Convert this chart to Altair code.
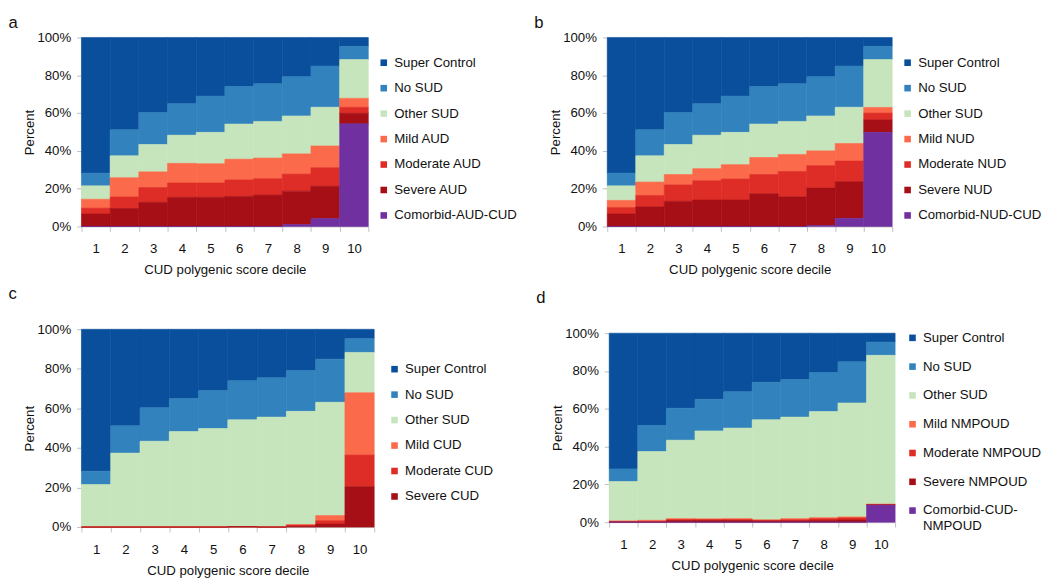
import altair as alt
import pandas as pd

FONT = "Liberation Sans"
deciles = [1, 2, 3, 4, 5, 6, 7, 8, 9, 10]

colors7 = ["#0a4f9c", "#3182bd", "#c7e5bc", "#fb6a4a", "#de2d26", "#a50f15", "#7030a0"]
colors6 = colors7[:6]

# shared series
super_control = [71.8, 48.8, 39.7, 35.0, 31.0, 26.0, 24.5, 20.8, 15.1, 4.7]
no_sud = [6.7, 13.8, 16.9, 16.7, 19.2, 19.8, 19.9, 20.7, 21.8, 7.0]

# panel a (AUD)
names_a = ["Super Control", "No SUD", "Other SUD", "Mild AUD", "Moderate AUD", "Severe AUD", "Comorbid-AUD-CUD"]
a_other = [7.1, 11.6, 14.5, 14.9, 16.6, 18.6, 19.4, 20.1, 20.5, 20.5]
a_mild = [4.7, 10.2, 8.3, 10.4, 10.2, 11.0, 10.9, 10.7, 11.5, 4.7]
a_moderate = [3.1, 6.1, 7.8, 7.6, 7.6, 8.7, 8.7, 9.0, 9.8, 3.2]
a_severe = [6.6, 9.5, 12.8, 15.4, 15.4, 15.9, 16.6, 17.7, 17.1, 5.6]
a_comorbid = [0, 0, 0, 0, 0, 0, 0, 1.0, 4.2, 54.3]

# panel b (NUD)
names_b = ["Super Control", "No SUD", "Other SUD", "Mild NUD", "Moderate NUD", "Severe NUD", "Comorbid-NUD-CUD"]
b_other = [7.7, 13.9, 15.9, 17.7, 17.1, 17.7, 17.5, 18.5, 19.2, 25.3]
b_mild = [3.8, 7.1, 5.5, 6.4, 7.6, 9.0, 9.0, 7.8, 9.3, 3.0]
b_moderate = [3.4, 6.0, 8.7, 10.2, 11.1, 10.2, 13.4, 11.8, 10.9, 3.6]
b_severe = [6.6, 10.4, 13.3, 14.0, 14.0, 17.3, 15.7, 19.9, 19.4, 6.6]
b_comorbid = [0, 0, 0, 0, 0, 0, 0, 0.5, 4.3, 49.8]

# panel c (CUD)
names_c = ["Super Control", "No SUD", "Other SUD", "Mild CUD", "Moderate CUD", "Severe CUD"]
c_other = [21.5, 37.4, 43.4, 48.3, 49.8, 54.0, 55.6, 57.3, 57.3, 20.4]
c_mild = [0, 0, 0, 0, 0, 0, 0, 0.2, 2.6, 31.5]
c_moderate = [0, 0, 0, 0, 0, 0, 0, 0.6, 1.7, 16.0]
c_severe = [0, 0, 0, 0, 0, 0.2, 0, 0.4, 1.5, 20.4]

# panel d (NMPOUD)
names_d = ["Super Control", "No SUD", "Other SUD", "Mild NMPOUD", "Moderate NMPOUD", "Severe NMPOUD", "Comorbid-CUD-NMPOUD"]
d_other = [20.8, 36.4, 41.5, 46.5, 47.9, 53.0, 53.7, 56.1, 60.3, 78.7]
d_mild = [0.4, 0.5, 0.5, 0.4, 0.5, 0.2, 0.6, 0.6, 0.6, 0.3]
d_moderate = [0.3, 0.5, 0.5, 0.5, 0.5, 0.4, 0.6, 0.8, 1.0, 0.2]
d_severe = [0, 0, 0.9, 0.9, 0.9, 0.6, 0.7, 1.0, 1.2, 0.1]
d_comorbid = [0, 0, 0, 0, 0, 0, 0, 0, 0, 9.0]


def make_df(names, series):
    rows = []
    n = len(names)
    for i, (nm, vals) in enumerate(zip(names, series)):
        for d, v in zip(deciles, vals):
            rows.append({"decile": d, "group": nm, "value": v, "rank": n - 1 - i})
    return pd.DataFrame(rows)


def panel(letter, names, series, colors, w, h, title_offset, lx, ly, row_pad,
          label_expr=None, top_gap=0):
    df = make_df(names, series)
    scale = alt.Scale(domain=names, range=colors)
    leg_kwargs = dict(
        title=None, orient="none", legendX=lx, legendY=ly,
        symbolType="square", symbolSize=45, symbolStrokeWidth=0,
        labelFont=FONT, labelFontSize=13.5, labelColor="#111",
        labelOffset=4, rowPadding=row_pad, padding=0, labelLimit=300,
    )
    if label_expr:
        leg_kwargs["labelExpr"] = label_expr
    yscale = alt.Scale(domain=[0, 100], nice=False, range=[h, top_gap])
    return alt.Chart(df).mark_bar(strokeWidth=0.6).encode(
        x=alt.X("decile:O", title="CUD polygenic score decile",
                scale=alt.Scale(paddingInner=0, paddingOuter=0),
                axis=alt.Axis(labelAngle=0, tickBand="extent", tickSize=5,
                              labelPadding=11, titlePadding=8)),
        y=alt.Y("value:Q", stack="zero", title="Percent", scale=yscale,
                axis=alt.Axis(values=[0, 20, 40, 60, 80, 100], labelExpr="datum.value + '%'",
                              grid=False, tickSize=5, labelPadding=6, titlePadding=0)),
        color=alt.Color("group:N", scale=scale, legend=alt.Legend(**leg_kwargs)),
        stroke=alt.Stroke("group:N", scale=scale, legend=None),
        order=alt.Order("rank:Q", sort="ascending"),
    ).properties(
        width=w, height=h,
        title=alt.TitleParams(text=letter, anchor="start", frame="bounds", fontSize=17,
                              font=FONT, fontWeight="normal", color="#111", baseline="top",
                              offset=title_offset, dx=-15),
    )


pa = panel("a", names_a, [super_control, no_sud, a_other, a_mild, a_moderate, a_severe, a_comorbid],
           colors7, 293, 193, -1, 302, 19, 11)
pb = panel("b", names_b, [super_control, no_sud, b_other, b_mild, b_moderate, b_severe, b_comorbid],
           colors7, 291, 193, -1, 300, 19, 11)
pc = panel("c", names_c, [super_control, no_sud, c_other, c_mild, c_moderate, c_severe],
           colors6, 299, 202, 20, 313, 34, 11)
pd_ = panel("d", names_d, [super_control, no_sud, d_other, d_mild, d_moderate, d_severe, d_comorbid],
            colors7, 292, 197, 20, 303, 2, 14.4,
            label_expr="datum.label == 'Comorbid-CUD-NMPOUD' ? ['Comorbid-CUD-', 'NMPOUD'] : datum.label",
            top_gap=4)

row1 = alt.hconcat(pa, pb, spacing=17).resolve_scale(color="independent", stroke="independent")
row2 = alt.hconcat(pc, pd_, spacing=43).resolve_scale(color="independent", stroke="independent")
chart = alt.vconcat(row1, row2, spacing=9).resolve_scale(
    color="independent", stroke="independent"
).properties(
    padding=0
).configure_view(stroke=None).configure_axis(
    labelFont=FONT, labelFontSize=13.5, labelColor="#111",
    titleFont=FONT, titleFontSize=13.5, titleFontWeight="normal", titleColor="#111",
    domainColor="#bfbfbf", tickColor="#bfbfbf",
)

chart.save("out.html", embed_options={"renderer": "svg", "actions": False})
